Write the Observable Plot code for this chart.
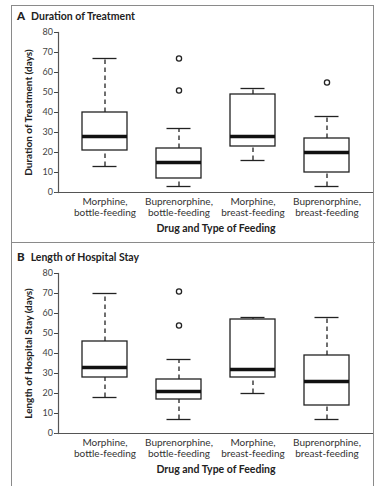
<!DOCTYPE html>
<html>
<head>
<meta charset="utf-8">
<script src="https://cdn.jsdelivr.net/npm/d3@7"></script>
<script src="https://cdn.jsdelivr.net/npm/@observablehq/plot@0.6"></script>
<style>
  html, body { margin: 0; padding: 0; background: #fff; overflow: hidden; }
  #fig { position: relative; width: 377px; height: 486px; background: #fff; font-family: Lato, "Open Sans", sans-serif; overflow: hidden; }
  .frame { position: absolute; left: 11px; top: 5px; width: 363px; height: 600px; border: 1.5px solid #8a8a8a; box-sizing: border-box; }
  .sep { position: absolute; left: 11px; top: 242px; width: 364px; height: 0; border-top: 1.5px solid #8a8a8a; }
  .ptitle { position: absolute; left: 17px; font-size: 10.5px; font-weight: bold; color: #222; white-space: nowrap; }
  .ptitle b { font-size: 11.5px; margin-right: 6px; }
  .panel { position: absolute; left: 0; }
</style>
</head>
<body>
<div id="fig">
  <div class="frame"></div>
  <div class="sep"></div>
  <div class="ptitle" style="top:9px"><b>A</b>Duration of Treatment</div>
  <div class="panel" id="pA" style="top:0px"></div>
  <div class="ptitle" style="top:250px"><b>B</b>Length of Hospital Stay</div>
  <div class="panel" id="pB" style="top:241px"></div>
</div>
<script>
// Categories
const groups = ["Morphine, bottle-feeding", "Buprenorphine, bottle-feeding", "Morphine, breast-feeding", "Buprenorphine, breast-feeding"];
const yTicks = [0, 10, 20, 30, 40, 50, 60, 70, 80];

// Panel A: Duration of Treatment (days)
const aLow  = [13, 3, 16, 3];
const aQ1   = [21, 7, 23, 10];
const aMed  = [28, 15, 28, 20];
const aQ3   = [40, 22, 49, 27];
const aHigh = [67, 32, 52, 38];
const aOutGroup = ["Buprenorphine, bottle-feeding", "Buprenorphine, bottle-feeding", "Buprenorphine, breast-feeding"];
const aOutValue = [51, 67, 55];

// Panel B: Length of Hospital Stay (days)
const bLow  = [18, 7, 20, 7];
const bQ1   = [28, 17, 28, 14];
const bMed  = [33, 21, 32, 26];
const bQ3   = [46, 27, 57, 39];
const bHigh = [70, 37, 58, 58];
const bOutGroup = ["Buprenorphine, bottle-feeding", "Buprenorphine, bottle-feeding"];
const bOutValue = [54, 71];

function panel(low, q1, med, q3, high, outG, outV, yLabel) {
  const rows = groups.map((g, i) => ({g, lo: low[i], q1: q1[i], med: med[i], q3: q3[i], hi: high[i]}));
  const outs = outG.map((g, i) => ({g, v: outV[i]}));
  const ink = "#222";
  return Plot.plot({
    width: 377,
    height: 243,
    marginTop: 32,
    marginBottom: 51,
    marginLeft: 58,
    marginRight: 4,
    style: {fontFamily: "Lato, 'Open Sans', sans-serif", background: "transparent", overflow: "visible"},
    x: {type: "band", domain: groups, paddingInner: 0.39, paddingOuter: 0.32},
    y: {domain: [0, 80]},
    marks: [
      Plot.axisY({ticks: yTicks, tickSize: 4, tickPadding: 1.5, fontSize: 9, color: "#444", label: null}),
      Plot.axisX({tickSize: 0, tickPadding: 4, fontSize: 10, color: "#333", label: null, lineHeight: 1.15,
                  tickFormat: d => d.replace(", ", ",\n")}),
      Plot.frame({anchor: "left", stroke: "#555", strokeWidth: 1.2}),
      Plot.ruleY([0], {stroke: "#555", strokeWidth: 1.2, insetLeft: -3}),
      Plot.ruleX(rows, {x: "g", y1: "q3", y2: "hi", stroke: ink, strokeWidth: 1.3, strokeDasharray: "4.5,3.5"}),
      Plot.ruleX(rows, {x: "g", y1: "lo", y2: "q1", stroke: ink, strokeWidth: 1.3, strokeDasharray: "4.5,3.5"}),
      Plot.tickY(rows, {x: "g", y: "hi", stroke: ink, strokeWidth: 1.3, insetLeft: 10.5, insetRight: 10.5}),
      Plot.tickY(rows, {x: "g", y: "lo", stroke: ink, strokeWidth: 1.3, insetLeft: 10.5, insetRight: 10.5}),
      Plot.barY(rows, {x: "g", y1: "q1", y2: "q3", fill: "white", stroke: ink, strokeWidth: 1.3}),
      Plot.tickY(rows, {x: "g", y: "med", stroke: "#111", strokeWidth: 3.6}),
      Plot.dot(outs, {x: "g", y: "v", r: 2.6, fill: "white", stroke: ink, strokeWidth: 1.3}),
      Plot.text([yLabel], {frameAnchor: "left", textAnchor: "middle", lineAnchor: "middle", rotate: -90, dx: -30, fontSize: 10, fontWeight: "bold", fill: "#222"}),
      Plot.text(["Drug and Type of Feeding"], {frameAnchor: "bottom", lineAnchor: "middle", dy: 36, fontSize: 10.5, fontWeight: "bold", fill: "#222"})
    ]
  });
}

document.getElementById("pA").append(panel(aLow, aQ1, aMed, aQ3, aHigh, aOutGroup, aOutValue, "Duration of Treatment (days)"));
document.getElementById("pB").append(panel(bLow, bQ1, bMed, bQ3, bHigh, bOutGroup, bOutValue, "Length of Hospital Stay (days)"));
</script>
</body>
</html>
